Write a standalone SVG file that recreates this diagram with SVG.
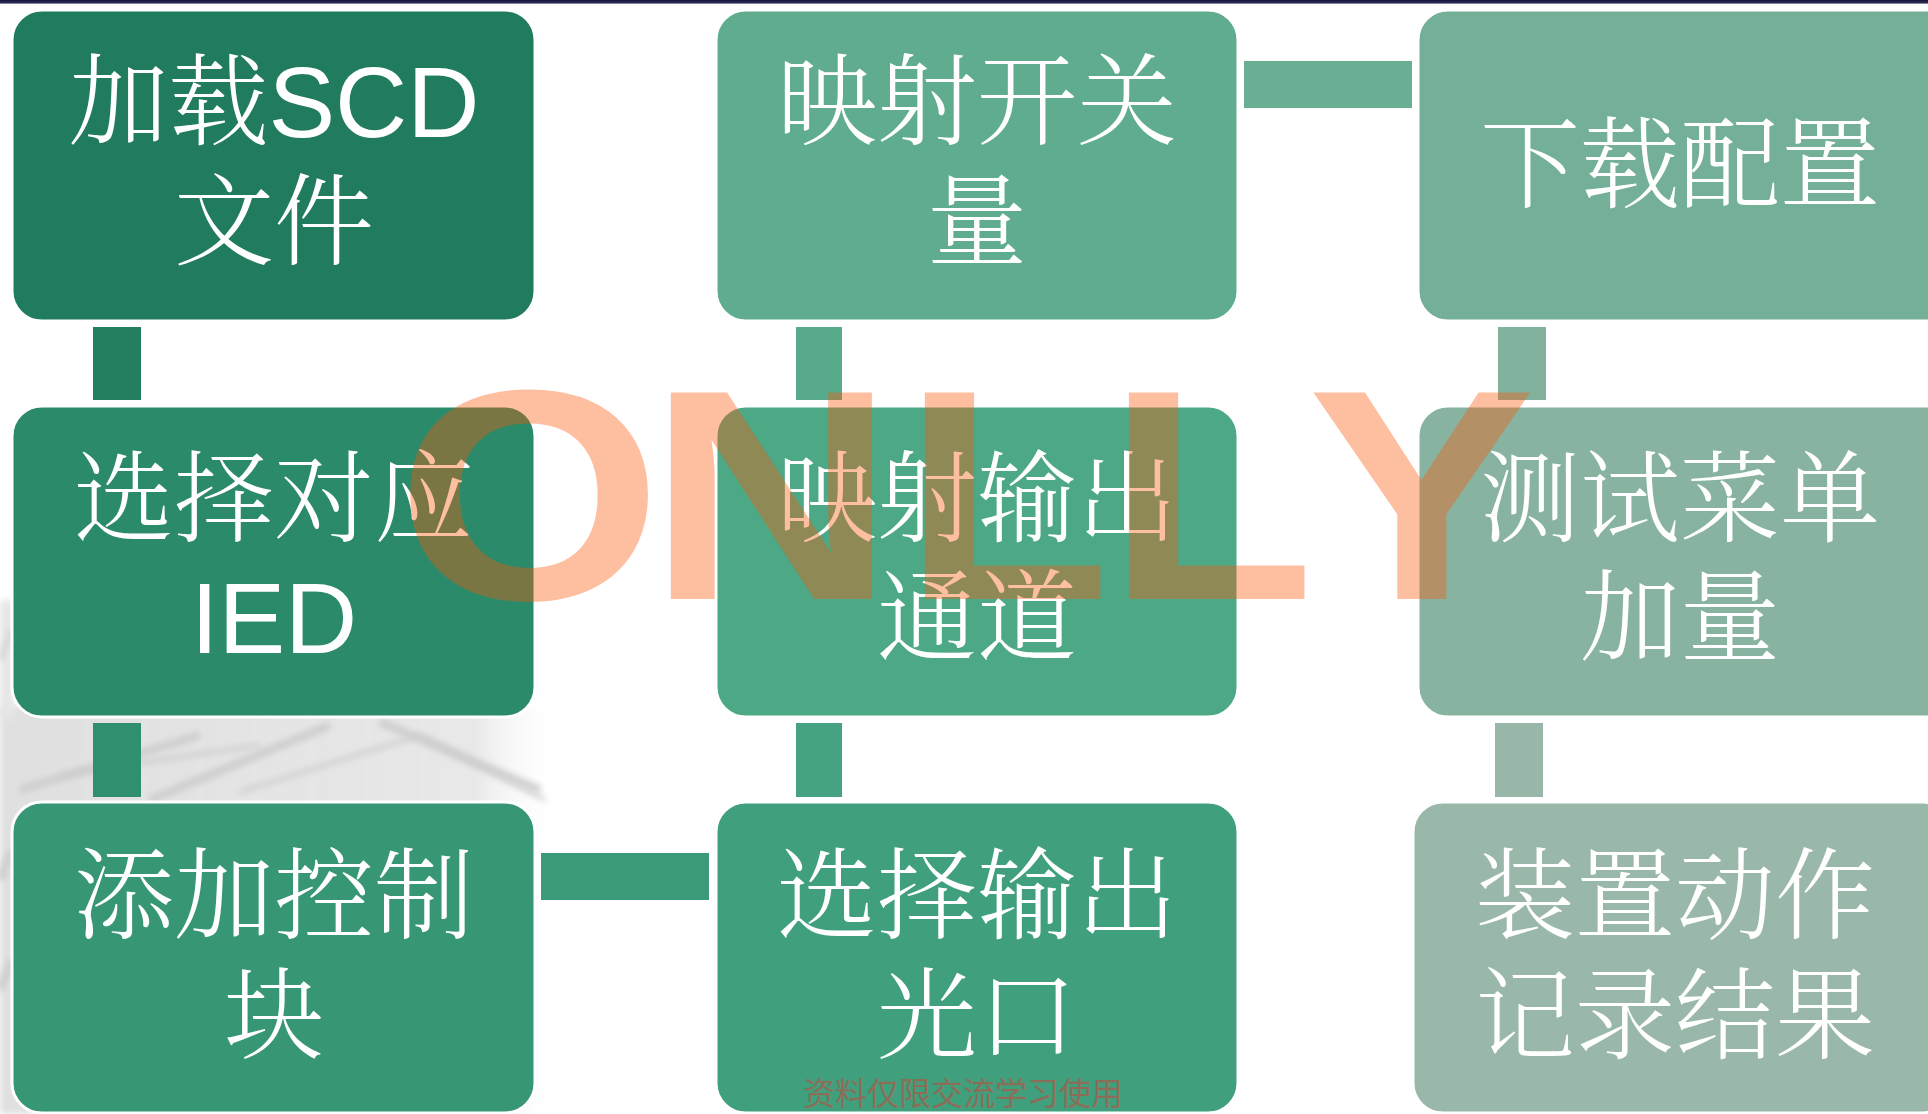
<svg xmlns="http://www.w3.org/2000/svg" width="1928" height="1114" viewBox="0 0 1928 1114">
  <defs>
    <style>
      .box { stroke: #ffffff; stroke-width: 3; }
      .lbl { font-family: "Liberation Sans", "Noto Serif CJK SC", "Noto Sans CJK SC", sans-serif; font-size: 100px; fill: #ffffff; text-anchor: middle; font-weight: 300; }
      .wm { font-family: "Liberation Sans", Arial, sans-serif; font-weight: bold; font-size: 300px; fill: #FD5808; fill-opacity: 0.38; }
      .wm2 { font-family: "Noto Sans CJK SC", sans-serif; font-size: 32px; fill: #8C6E58; text-anchor: middle; }
      .tex { stroke: #cdcdcd; fill: none; }
    </style>
    <linearGradient id="bgfadeX" x1="0" y1="0" x2="1" y2="0">
      <stop offset="0" stop-color="#e0e0e0" stop-opacity="1"/>
      <stop offset="0.85" stop-color="#e6e6e6" stop-opacity="0.9"/>
      <stop offset="1" stop-color="#ffffff" stop-opacity="0"/>
    </linearGradient>
    <linearGradient id="topbar" x1="0" y1="0" x2="0" y2="1">
      <stop offset="0" stop-color="#14143a"/>
      <stop offset="0.7" stop-color="#2a2a55"/>
      <stop offset="1" stop-color="#c8c8d4"/>
    </linearGradient>
    <filter id="soft" x="-10%" y="-10%" width="120%" height="120%">
      <feGaussianBlur stdDeviation="3"/>
    </filter>
    <clipPath id="bgclip">
      <rect x="0" y="560" width="560" height="554"/>
    </clipPath>
  </defs>

  <rect x="0" y="0" width="1928" height="1114" fill="#ffffff"/>

  <!-- faint background picture, lower left -->
  <g id="background" clip-path="url(#bgclip)">
    <rect x="0" y="705" width="560" height="409" fill="url(#bgfadeX)" filter="url(#soft)"/>
    <rect x="0" y="600" width="14" height="120" fill="#e6e6e6" filter="url(#soft)"/>
    <g class="tex" stroke-width="8" filter="url(#soft)">
      <path d="M20 790 L200 735"/>
      <path d="M150 800 L330 725"/>
      <path d="M380 722 L540 790"/>
      <path d="M0 880 L12 850"/>
      <path d="M0 990 L12 960"/>
    </g>
    <g class="tex" stroke-width="4" stroke="#d4d4d4" filter="url(#soft)">
      <path d="M60 775 L260 745"/>
      <path d="M240 792 L420 735"/>
      <path d="M420 735 L545 800"/>
      <path d="M0 660 L12 630"/>
    </g>
  </g>

  <rect x="0" y="0" width="1928" height="4" fill="url(#topbar)"/>

  <!-- connectors -->
  <g id="connectors">
    <rect x="93" y="327" width="48" height="73" fill="#247E60"/>
    <rect x="93" y="723" width="48" height="74" fill="#2F8F6E"/>
    <rect x="541" y="853" width="168" height="47" fill="#3B9B78"/>
    <rect x="796" y="723" width="46" height="74" fill="#46A381"/>
    <rect x="796" y="327" width="46" height="73" fill="#57AA8A"/>
    <rect x="1244" y="61" width="168" height="47" fill="#6AAF93"/>
    <rect x="1498" y="327" width="48" height="73" fill="#80B29E"/>
    <rect x="1495" y="723" width="48" height="74" fill="#98B7A9"/>
  </g>

  <!-- nodes -->
  <g id="node-load-scd">
    <rect class="box" x="12" y="10" width="523" height="311" rx="30" fill="#217B5F"/>
    <text class="lbl" x="274" y="137">加载SCD</text>
    <text class="lbl" x="274" y="257">文件</text>
  </g>
  <g id="node-select-ied">
    <rect class="box" x="12" y="406" width="523" height="311" rx="30" fill="#2B8A6A"/>
    <text class="lbl" x="274" y="534">选择对应</text>
    <text class="lbl" x="274" y="653">IED</text>
  </g>
  <g id="node-add-ctrl">
    <rect class="box" x="12" y="802" width="523" height="311" rx="30" fill="#379674"/>
    <text class="lbl" x="274" y="931">添加控制</text>
    <text class="lbl" x="274" y="1051">块</text>
  </g>
  <g id="node-select-port">
    <rect class="box" x="716" y="802" width="522" height="311" rx="30" fill="#40A07D"/>
    <text class="lbl" x="977" y="931">选择输出</text>
    <text class="lbl" x="977" y="1051">光口</text>
  </g>
  <g id="node-map-output">
    <rect class="box" x="716" y="406" width="522" height="311" rx="30" fill="#4DA886"/>
    <text class="lbl" x="977" y="534">映射输出</text>
    <text class="lbl" x="977" y="653">通道</text>
  </g>
  <g id="node-map-switch">
    <rect class="box" x="716" y="10" width="522" height="311" rx="30" fill="#5FAD8E"/>
    <text class="lbl" x="977" y="137">映射开关</text>
    <text class="lbl" x="977" y="257">量</text>
  </g>
  <g id="node-download">
    <rect class="box" x="1418" y="10" width="540" height="311" rx="30" fill="#74AF97"/>
    <text class="lbl" x="1680" y="200">下载配置</text>
  </g>
  <g id="node-test-menu">
    <rect class="box" x="1418" y="406" width="540" height="311" rx="30" fill="#88B3A0"/>
    <text class="lbl" x="1680" y="534">测试菜单</text>
    <text class="lbl" x="1680" y="653">加量</text>
  </g>
  <g id="node-record">
    <rect class="box" x="1413" y="802" width="540" height="311" rx="30" fill="#9AB8A9"/>
    <text class="lbl" x="1675" y="931">装置动作</text>
    <text class="lbl" x="1675" y="1051">记录结果</text>
  </g>

  <!-- watermarks -->
  <text class="wm" transform="matrix(1.14 0 0 1 0 0)" x="347.6 568.4 791.2 970.2 1147" y="599">ONLLY</text>
  <text class="wm2" x="963" y="1105">资料仅限交流学习使用</text>
</svg>
